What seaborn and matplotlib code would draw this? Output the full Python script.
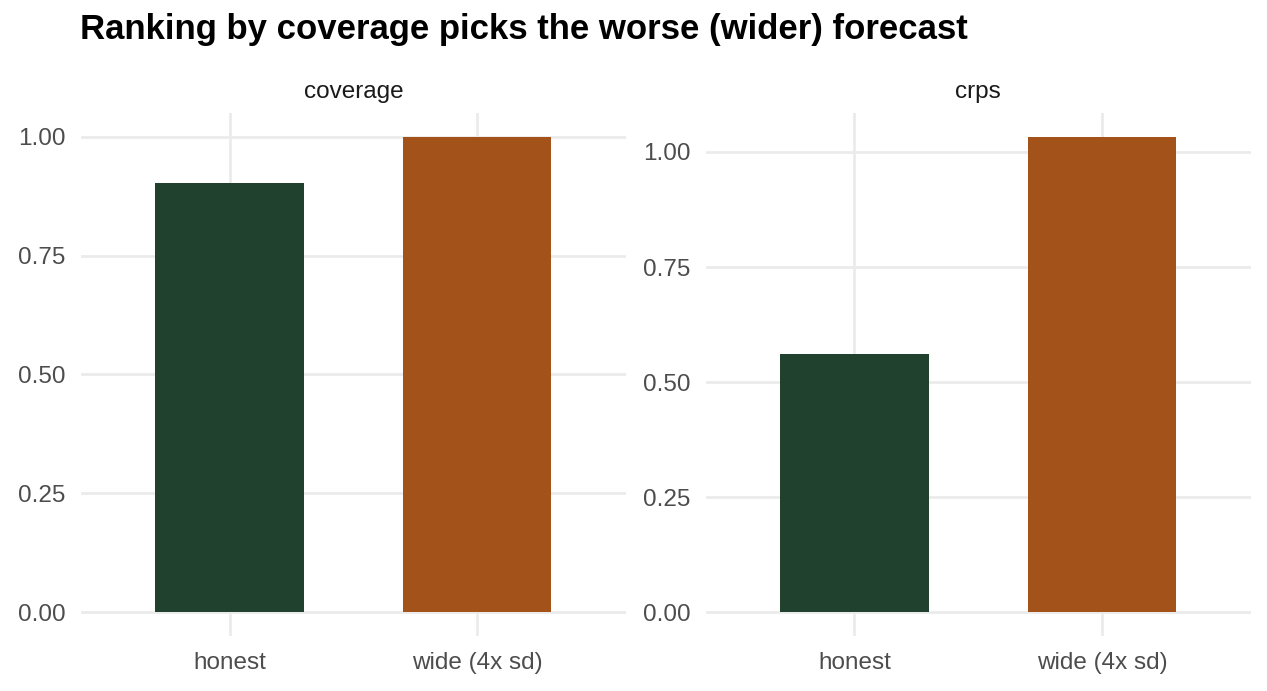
import pandas as pd
import seaborn as sns
import matplotlib.pyplot as plt

methods = ["honest", "wide (4x sd)"]
coverage = [0.903, 1.000]
crps = [0.561, 1.033]
colors = ["#1F412D", "#A35219"]

df = pd.DataFrame({
    "method": methods * 2,
    "metric": ["coverage"] * 2 + ["crps"] * 2,
    "value": coverage + crps,
})

sns.set_theme(style="whitegrid")
plt.rcParams["font.family"] = ["Liberation Sans", "DejaVu Sans"]

fig, axes = plt.subplots(1, 2, figsize=(12.67, 6.91), dpi=100)
fig.subplots_adjust(left=0.064, right=0.987, bottom=0.0796, top=0.8365, wspace=0.147)

for ax, metric in zip(axes, ["coverage", "crps"]):
    sub = df[df["metric"] == metric]
    sns.barplot(data=sub, x="method", y="value", hue="method", palette=colors,
                width=0.6, legend=False, ax=ax, saturation=1, linewidth=0)
    top = sub["value"].max()
    ax.set_ylim(-0.05 * top, top * 1.05)
    ax.set_xlim(-0.6, 1.6)
    ax.set_yticks([0, 0.25, 0.5, 0.75, 1.0])
    ax.set_yticklabels(["0.00", "0.25", "0.50", "0.75", "1.00"])
    ax.set_xlabel("")
    ax.set_ylabel("")
    ax.set_title(metric, fontsize=17.5, color="#1A1A1A", pad=10.5)
    ax.grid(True, color="#EBEBEB", linewidth=2)
    ax.set_axisbelow(True)
    for s in ax.spines.values():
        s.set_visible(False)
    ax.tick_params(axis="both", length=0, labelsize=17.5, labelcolor="#4D4D4D")
    ax.tick_params(axis="y", pad=11)
    ax.tick_params(axis="x", pad=11.5)

fig.text(80 / 1267, 1 - 30 / 691, "Ranking by coverage picks the worse (wider) forecast",
         fontsize=25, fontweight="bold", va="center", ha="left", color="black")

fig.savefig("out.png", dpi=100, facecolor="white")
